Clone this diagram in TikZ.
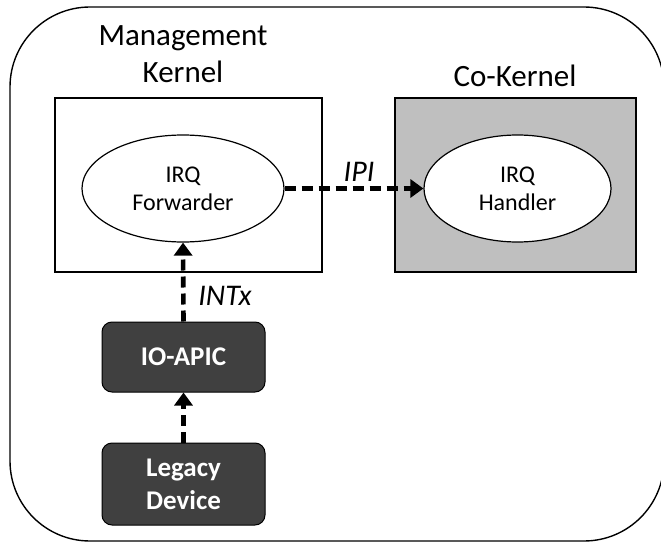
\documentclass[tikz,border=0pt]{standalone}
\usepackage{fontspec}
\setmainfont{Carlito}
\usetikzlibrary{shapes.geometric,arrows.meta}

\tikzset{
  kernelbox/.style={draw=black, line width=1.4pt},
  bubble/.style={ellipse, draw=black, fill=white, line width=1.2pt, inner sep=0pt,
    minimum height=107pt, align=center, font=\fontsize{24}{28}\selectfont},
  hwbox/.style={draw=black, fill=black!75, rounded corners=10pt, line width=1pt,
    minimum width=163pt, text=white, align=center,
    font=\fontsize{27}{33}\selectfont\bfseries},
  title/.style={align=center, inner sep=0pt, font=\fontsize{31}{37}\selectfont},
  flowlabel/.style={inner sep=0pt, font=\fontsize{30}{36}\selectfont\itshape},
  irqflow/.style={line width=4.6pt, dash pattern=on 11pt off 6pt,
    -{Triangle[length=13pt,width=18pt]}}
}

\begin{document}
\begin{tikzpicture}[x=1pt,y=-1pt]
  \useasboundingbox (0,0) rectangle (661,543);

  % system enclosure
  \draw[line width=1.4pt, rounded corners=80pt] (10,7) rectangle (664,541);

  % the two kernels
  \draw[kernelbox, fill=white] (55,98) rectangle (322,272);
  \draw[kernelbox, fill=black!25] (395,98) rectangle (636,272);
  \node[title] (mgmt) at (183,54) {Management\\Kernel};
  \node[title] (cok) at (515,76) {Co-Kernel};

  \node[bubble, minimum width=202pt] (fwd) at (183,188.5) {IRQ\\Forwarder};
  \node[bubble, minimum width=187pt] (hdl) at (517.5,188.5) {IRQ\\Handler};

  % interrupt hardware
  \node[hwbox, minimum height=70pt] (apic) at (183.5,357) {IO-APIC};
  \node[hwbox, minimum height=82pt] (dev) at (183.5,484) {Legacy\\Device};

  % interrupt delivery path
  \draw[irqflow] (dev.north) -- (apic.south);
  \draw[irqflow] (apic.north) -- (fwd.south);
  \draw[irqflow] (fwd.east) -- (hdl.west);

  \node[flowlabel] (ipi) at (359,172) {IPI};
  \node[flowlabel] (intx) at (225,296) {INTx};
\end{tikzpicture}
\end{document}
